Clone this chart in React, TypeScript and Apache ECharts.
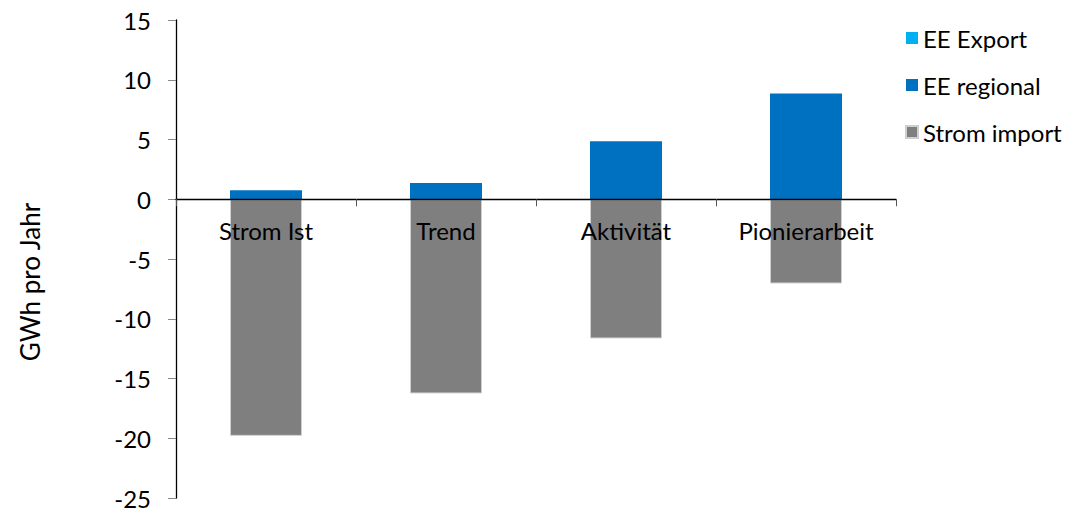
import React, { useEffect, useRef } from "react";
import * as echarts from "echarts";

const categories = ["Strom Ist", "Trend", "Aktivität", "Pionierarbeit"];
const eeExport = [0, 0, 0, 0];
const eeRegional = [0.75, 1.35, 4.85, 8.85];
const stromImport = [-19.8, -16.25, -11.65, -7.05];
const yTicks = { min: -25, max: 15, interval: 5 };
const yAxisTitle = "GWh pro Jahr";

const FONT = "Lato";
const GRID_TOP = 20;
const GRID_BOTTOM = 18;
const PLOT_H = 516 - GRID_TOP - GRID_BOTTOM;
const zeroOffset = -(PLOT_H * (0 - yTicks.min)) / (yTicks.max - yTicks.min);

export default function App() {
  const ref = useRef<HTMLDivElement>(null);
  useEffect(() => {
    document.body.style.margin = "0";
    const chart = echarts.init(ref.current!, undefined, { renderer: "svg" });
    chart.setOption({
      animation: false,
      textStyle: { fontFamily: FONT },
      grid: { left: 176, right: 180, top: GRID_TOP, bottom: GRID_BOTTOM, outerBoundsMode: "none", containLabel: false },
      legend: {
        orient: "vertical",
        left: 900,
        top: 21,
        icon: "rect",
        itemWidth: 12,
        itemHeight: 12,
        itemGap: 23,
        data: ["EE Export", "EE regional", "Strom import"],
        textStyle: { fontFamily: FONT, fontSize: 24, color: "#000" },
      },
      graphic: [
        {
          type: "text",
          x: 30,
          y: 282,
          rotation: Math.PI / 2,
          style: {
            text: yAxisTitle,
            fontFamily: FONT,
            fontSize: 26,
            fill: "#000",
            align: "center",
            verticalAlign: "middle",
          },
        },
      ],
      xAxis: {
        type: "category",
        data: categories,
        z: 10,
        offset: zeroOffset,
        axisLine: { onZero: false, lineStyle: { color: "#000", width: 1.3 } },
        axisTick: { show: true, length: 7, lineStyle: { color: "#555" } },
        axisLabel: { fontFamily: FONT, fontSize: 24, color: "#000", margin: 19 },
      },
      yAxis: {
        type: "value",
        min: yTicks.min,
        max: yTicks.max,
        interval: yTicks.interval,
        splitLine: { show: false },
        axisLine: { show: true, lineStyle: { color: "#000", width: 1.3 } },
        axisTick: { show: true, length: 8, lineStyle: { color: "#888" } },
        axisLabel: { fontFamily: FONT, fontSize: 24, color: "#000", margin: 25 },
      },
      series: [
        {
          name: "EE Export",
          type: "bar",
          stack: "s",
          data: eeExport,
          barWidth: "40%",
          itemStyle: { color: "#00B0F0" },
        },
        {
          name: "EE regional",
          type: "bar",
          stack: "s",
          data: eeRegional,
          barWidth: "40%",
          itemStyle: { color: "#0070C0" },
        },
        {
          name: "Strom import",
          type: "bar",
          stack: "s",
          data: stromImport,
          barWidth: "40%",
          itemStyle: { color: "#7F7F7F", borderColor: "#d0d0d0", borderWidth: 1 },
        },
      ],
    });
    return () => chart.dispose();
  }, []);
  return <div ref={ref} style={{ width: 1076, height: 516 }} />;
}
